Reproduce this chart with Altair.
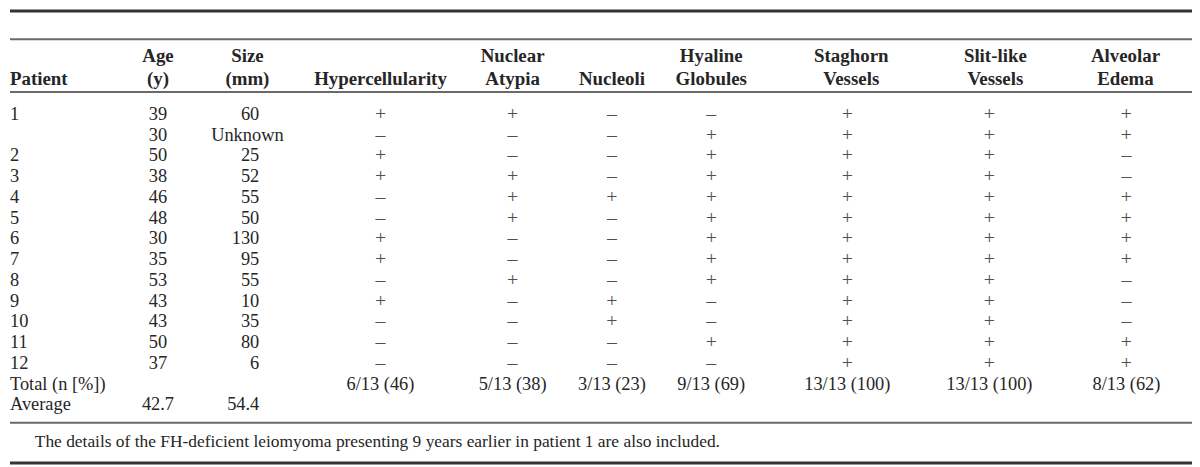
import altair as alt
import pandas as pd

# ---------------- data ----------------
P, M = "+", "\u2013"
patients = ["1", "", "2", "3", "4", "5", "6", "7", "8", "9", "10", "11", "12", "Total (n [%])", "Average"]
ages = ["39", "30", "50", "38", "46", "48", "30", "35", "53", "43", "43", "50", "37", "", "42.7"]
sizes = ["60", "Unknown", "25", "52", "55", "50", "130", "95", "55", "10", "35", "80", "6", "", "54.4"]
hypercellularity = [P, M, P, P, M, M, P, P, M, P, M, M, M, "6/13 (46)", ""]
nuclear_atypia = [P, M, M, P, P, P, M, M, P, M, M, M, M, "5/13 (38)", ""]
nucleoli = [M, M, M, M, P, M, M, M, M, P, P, M, M, "3/13 (23)", ""]
hyaline_globules = [M, P, P, P, P, P, P, P, P, M, M, P, M, "9/13 (69)", ""]
staghorn_vessels = [P, P, P, P, P, P, P, P, P, P, P, P, P, "13/13 (100)", ""]
slit_like_vessels = [P, P, P, P, P, P, P, P, P, P, P, P, P, "13/13 (100)", ""]
alveolar_edema = [P, P, M, M, P, P, P, P, M, M, M, P, P, "8/13 (62)", ""]

column_keys = ["Patient", "Age", "Size", "Hypercellularity", "Nuclear Atypia", "Nucleoli",
               "Hyaline Globules", "Staghorn Vessels", "Slit-like Vessels", "Alveolar Edema"]
header_line1 = ["", "Age", "Size", "", "Nuclear", "", "Hyaline", "Staghorn", "Slit-like", "Alveolar"]
header_line2 = ["Patient", "(y)", "(mm)", "Hypercellularity", "Atypia", "Nucleoli", "Globules",
                "Vessels", "Vessels", "Edema"]
footnote = "The details of the FH-deficient leiomyoma presenting 9 years earlier in patient 1 are also included."

columns_values = [patients, ages, sizes, hypercellularity, nuclear_atypia, nucleoli,
                  hyaline_globules, staghorn_vessels, slit_like_vessels, alveolar_edema]

records = []
for key, vals in zip(column_keys, columns_values):
    for i, v in enumerate(vals):
        if v != "":
            records.append({"row": i, "col": key, "text": v})
body = pd.DataFrame(records)
header = pd.DataFrame({"col": column_keys, "line1": header_line1, "line2": header_line2})

# ---------------- layout / style ----------------
FONT = "Liberation Serif"
FS = 18.5
HFS = 19
SFS = 20
TXT = "#262626"
SIGN = "#505050"
W, H = 1192, 459

# column x positions (value x, header x, align)
layout = {
    "Patient": (-4, -4, "left"),
    "Age": (149, 149, "center"),
    "Size": (251, 239, "right"),
    "Hypercellularity": (373, 373, "center"),
    "Nuclear Atypia": (506, 506, "center"),
    "Nucleoli": (606, 606, "center"),
    "Hyaline Globules": (706, 706, "center"),
    "Staghorn Vessels": (843, 847, "center"),
    "Slit-like Vessels": (986, 992, "center"),
    "Alveolar Edema": (1124, 1123, "center"),
}

yrow = alt.Y("row:Q", axis=None,
             scale=alt.Scale(domain=[0, 14], range=[111, 403.6], zero=False, nice=False))

layers = []

# horizontal rules
rules = [(1.5, 3, "#333333"), (30, 2, "#6a6a6a"), (83, 2, "#6a6a6a"),
         (416, 2, "#6a6a6a"), (456.5, 3, "#333333")]
for yy, sw, c in rules:
    layers.append(
        alt.Chart(header).mark_rule(strokeWidth=sw, color=c).encode(
            x=alt.value(0), x2=alt.value(W), y=alt.value(yy)
        ).transform_filter(alt.datum.col == "Patient")
    )

base = alt.Chart(body)
hbase = alt.Chart(header)
for key in column_keys:
    vx, hx, align = layout[key]
    hal = "left" if key == "Patient" else "center"
    hxx = max(hx, 0)
    vxx = max(vx, 0)
    # headers
    layers.append(
        hbase.transform_filter((alt.datum.col == key) & (alt.datum.line1 != ""))
        .mark_text(align=hal, baseline="alphabetic", font=FONT, fontSize=HFS,
                   fontWeight="bold", color=TXT)
        .encode(x=alt.value(hxx), y=alt.value(52.7), text="line1:N")
    )
    layers.append(
        hbase.transform_filter(alt.datum.col == key)
        .mark_text(align=hal, baseline="alphabetic", font=FONT, fontSize=HFS,
                   fontWeight="bold", color=TXT)
        .encode(x=alt.value(hxx), y=alt.value(76.3), text="line2:N")
    )
    if key == "Size":
        layers.append(
            base.transform_filter((alt.datum.col == key) & (alt.datum.text != "Unknown"))
            .mark_text(align="right", baseline="alphabetic", font=FONT, fontSize=FS, color=TXT)
            .encode(x=alt.value(vxx), y=yrow, text="text:N")
        )
        layers.append(
            base.transform_filter((alt.datum.col == key) & (alt.datum.text == "Unknown"))
            .mark_text(align="center", baseline="alphabetic", font=FONT, fontSize=FS, color=TXT)
            .encode(x=alt.value(hxx), y=yrow, text="text:N")
        )
    else:
        layers.append(
            base.transform_filter((alt.datum.col == key) & ((alt.datum.text == P) | (alt.datum.text == M)))
            .mark_text(align=align, baseline="alphabetic", font=FONT, fontSize=SFS, color=SIGN)
            .encode(x=alt.value(vxx), y=yrow, text="text:N")
        )
        layers.append(
            base.transform_filter((alt.datum.col == key) & (alt.datum.text != P) & (alt.datum.text != M))
            .mark_text(align=align, baseline="alphabetic", font=FONT, fontSize=FS, color=TXT)
            .encode(x=alt.value(vxx), y=yrow, text="text:N")
        )

# footnote
layers.append(
    alt.Chart(pd.DataFrame({"note": [footnote]}))
    .mark_text(align="left", baseline="alphabetic", font=FONT, fontSize=17.5, color=TXT)
    .encode(x=alt.value(25), y=alt.value(440), text="note:N")
)

chart = alt.layer(*layers).properties(
    width=W, height=H, padding=0,
    autosize=alt.AutoSizeParams(type="fit", contains="padding"),
    background="white",
).configure_view(stroke=None)

chart.save("out.html", embed_options={"renderer": "svg", "actions": False})
